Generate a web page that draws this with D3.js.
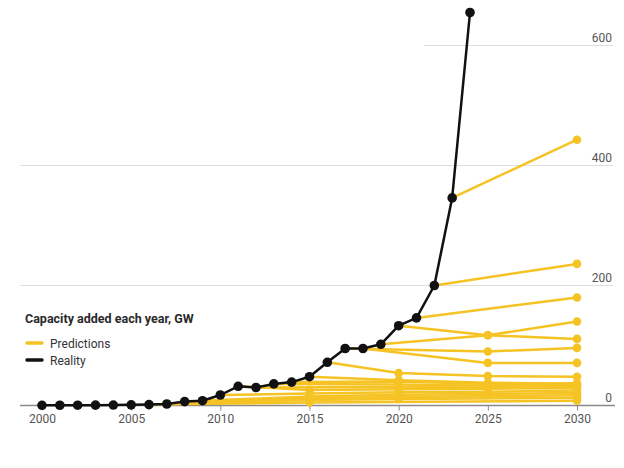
<!DOCTYPE html>
<html><head><meta charset="utf-8">
<script src="https://cdn.jsdelivr.net/npm/d3@7"></script>
<style>
body{margin:0;background:#fff;}
svg{display:block;font-family:Roboto,"Liberation Sans",Arial,sans-serif;}
</style></head>
<body>
<svg id="chart" width="624" height="468"></svg>
<script>
// Reality: capacity added each year (GW)
const realityYears = [2000,2001,2002,2003,2004,2005,2006,2007,2008,2009,2010,2011,2012,2013,2014,2015,2016,2017,2018,2019,2020,2021,2022,2023,2024];
const realityValues = [0.3,0.4,0.5,0.6,0.8,1.1,1.5,2.5,6.5,8,17.5,32,30,36,39,48,72,95,95,102,133,146,200,346,655];

// Predictions: each starts from the reality value of the year it was made
const predictionStartYears = [2006,2007,2008,2009,2010,2011,2012,2013,2014,2015,2016,2017,2018,2019,2020,2021,2022,2023];
const predictionYears = [
  [2015,2030],
  [2015,2020,2030],
  [2015,2020,2030],
  [2015,2020,2025,2030],
  [2015,2020,2025,2030],
  [2015,2020,2025,2030],
  [2020,2025,2030],
  [2020,2025,2030],
  [2020,2025,2030],
  [2020,2025,2030],
  [2020,2025,2030],
  [2025,2030],
  [2025,2030],
  [2025,2030],
  [2025,2030],
  [2030],
  [2030],
  [2030]
];
const predictionValues = [
  [5,8],
  [9,11,13],
  [12,14,17],
  [15,18,19,21],
  [20,22,23,25],
  [26,27,28,29],
  [31,30,32],
  [35,33,34],
  [40,36,37],
  [42,38,36],
  [54,49,48],
  [90,96],
  [71,71],
  [117,140],
  [117,111],
  [180],
  [236],
  [443]
];

const yTicks = [0,200,400,600];
const xTicks = [2000,2005,2010,2015,2020,2025,2030];

const yellow = "#F5C324";
const svg = d3.select("#chart");
const x = d3.scaleLinear().domain([2000,2030]).range([42,577]);
const y = d3.scaleLinear().domain([0,600]).range([405.5,45.5]);

// gridlines
svg.append("g").selectAll("line").data(yTicks.filter(d=>d>0)).join("line")
  .attr("x1", d => d===600 ? 424 : 20).attr("x2", 613)
  .attr("y1", d=>y(d)).attr("y2", d=>y(d))
  .attr("stroke","#dedede").attr("stroke-width",1);

// y labels
svg.append("g").selectAll("text").data(yTicks).join("text")
  .attr("x",612).attr("y",d=>y(d)-4).attr("text-anchor","end")
  .attr("font-size",12).attr("fill","#555").text(d=>d);

// x axis
const xAxis = d3.axisBottom(x).tickValues(xTicks).tickFormat(d3.format("d")).tickSize(5).tickPadding(4);
const gx = svg.append("g").attr("transform",`translate(0,${y(0)})`).call(xAxis);
gx.select(".domain").remove();
gx.selectAll(".tick line").attr("stroke","#888");
gx.selectAll(".tick text").attr("font-size",12).attr("fill","#555").attr("font-family","Roboto, 'Liberation Sans', Arial, sans-serif");
svg.append("line").attr("x1",20).attr("x2",615).attr("y1",y(0)).attr("y2",y(0))
  .attr("stroke","#8a8a8a").attr("stroke-width",1.5);

// predictions
const realityAt = yr => realityValues[realityYears.indexOf(yr)];
const preds = predictionStartYears.map((sy,i)=>{
  const pts = [{yr:sy, v:realityAt(sy)}];
  predictionYears[i].forEach((yr,j)=>pts.push({yr, v:predictionValues[i][j]}));
  return pts;
});
const line = d3.line().x(d=>x(d.yr)).y(d=>y(d.v));
const gp = svg.append("g");
gp.selectAll("path").data(preds).join("path")
  .attr("d",line).attr("fill","none").attr("stroke",yellow).attr("stroke-width",2.5)
  .attr("stroke-linejoin","round");
gp.selectAll("g.dots").data(preds).join("g").attr("class","dots")
  .selectAll("circle").data(d=>d.slice(1)).join("circle")
  .attr("cx",d=>x(d.yr)).attr("cy",d=>y(d.v)).attr("r",4.3).attr("fill",yellow);

// reality
const real = realityYears.map((yr,i)=>({yr, v:realityValues[i]}));
svg.append("path").datum(real).attr("d",line).attr("fill","none")
  .attr("stroke","#111").attr("stroke-width",2.5).attr("stroke-linejoin","round");
svg.append("g").selectAll("circle").data(real).join("circle")
  .attr("cx",d=>x(d.yr)).attr("cy",d=>y(d.v)).attr("r",4.8).attr("fill","#111");

// legend
const lg = svg.append("g");
lg.append("text").attr("x",25).attr("y",323).attr("font-size",12.5).attr("font-weight","bold")
  .attr("fill","#2a2a2a").text("Capacity added each year, GW");
const legendItems = [{label:"Predictions", color:yellow},{label:"Reality", color:"#111"}];
legendItems.forEach((it,i)=>{
  const cy = 343 + i*17;
  lg.append("line").attr("x1",27).attr("x2",42).attr("y1",cy).attr("y2",cy)
    .attr("stroke",it.color).attr("stroke-width",3.5).attr("stroke-linecap","round");
  lg.append("text").attr("x",50).attr("y",cy+4.5).attr("font-size",12).attr("fill","#333").text(it.label);
});
</script>
</body></html>
